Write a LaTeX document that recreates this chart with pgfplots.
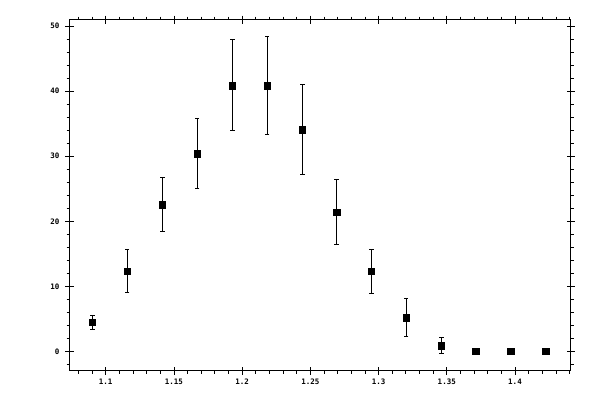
\documentclass[border=0pt]{standalone}
\usepackage{fontspec}
\setmonofont{DejaVu Sans Mono}
\usepackage{pgfplots}
\usepackage{pgfplotstable}
\pgfplotsset{compat=1.18}

\pgfplotstableread{
x       y     e
1.0902  4.46  1.05
1.1158  12.3  3.3
1.1415  22.6  4.1
1.1671  30.4  5.4
1.1928  40.9  7.0
1.2184  40.9  7.6
1.2441  34.1  6.9
1.2693  21.4  5.0
1.2947  12.3  3.4
1.3203  5.2   2.9
1.3460  0.9   1.2
1.3714  0     0
1.3971  0     0
1.4227  0     0
}\datatable

\pgfplotsset{
  frame/.style={
    scale only axis,
    width=501pt, height=351pt,
    at={(69.5pt,29.5pt)}, anchor=south west,
    xmin=1.07346, xmax=1.44069,
    ymin=-2.95, ymax=51.03,
    axis line style={line width=0.8pt},
    every tick/.style={black, line width=0.8pt},
  },
}

\begin{document}
\begin{tikzpicture}
\useasboundingbox (0,0) rectangle (600pt,400pt);
% small ticks, pointing outwards
\begin{axis}[frame,
    tick align=outside,
    xtick={1.08,1.09,...,1.44},
    ytick={-2,0,...,50},
    xticklabels={}, yticklabels={},
    major tick length=3pt,
  ]
\end{axis}
% major ticks across the frame, labels, data
\begin{axis}[frame,
    tick align=center,
    major tick length=8pt,
    xtick={1.1,1.15,1.2,1.25,1.3,1.35,1.4},
    xticklabels={1.1,1.15,1.2,1.25,1.3,1.35,1.4},
    ytick={0,10,20,30,40,50},
    yticklabels={0,10,20,30,40,50},
    ticklabel style={font=\ttfamily\bfseries\fontsize{7.5}{9}\selectfont, inner sep=0pt},
    xticklabel style={anchor=north, yshift=-4pt},
    yticklabel style={anchor=east, xshift=-6pt},
  ]
  \addplot[only marks, mark=square*, mark size=3.35pt, black,
    error bars/.cd, y dir=both, y explicit,
    error bar style={line width=0.8pt},
    error mark options={rotate=90, mark size=2.2pt, line width=0.8pt}]
    table[x=x, y=y, y error=e] {\datatable};
\end{axis}
\end{tikzpicture}
\end{document}
